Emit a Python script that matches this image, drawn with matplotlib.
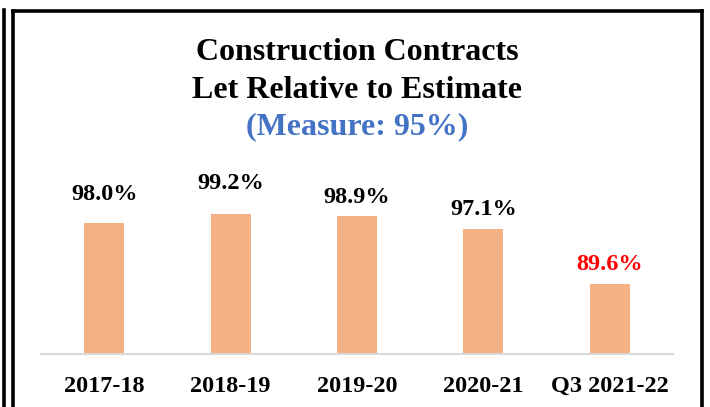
import matplotlib
matplotlib.use("Agg")
import matplotlib.pyplot as plt
from matplotlib.lines import Line2D

categories = ["2017-18", "2018-19", "2019-20", "2020-21", "Q3 2021-22"]
values = [98.0, 99.2, 98.9, 97.1, 89.6]
labels = ["98.0%", "99.2%", "98.9%", "97.1%", "89.6%"]
label_colors = ["black", "black", "black", "black", "#FF0000"]
label_offsets_px = [28, 30, 19, 20, 19]  # label centre above bar top, pixels

plt.rcParams['font.family'] = ['Liberation Serif', 'DejaVu Serif']

W, H = 710, 407
fig = plt.figure(figsize=(W / 100, H / 100), dpi=100)

# axes placement in pixels
x0, x1 = 41, 673
ybase, ytop = 354, 150
ax = fig.add_axes([x0 / W, 1 - ybase / H, (x1 - x0) / W, (ybase - ytop) / H])
ax.bar(range(len(values)), values, width=0.316, color="#F4B183", zorder=2)
ax.set_xlim(-0.5, len(values) - 0.5)
ax.set_ylim(80, 80 + (ybase - ytop) / 7.3)
for s in ["top", "right", "left"]:
    ax.spines[s].set_visible(False)
ax.spines["bottom"].set_color("#D9D9D9")
ax.spines["bottom"].set_linewidth(1.5)
ax.set_yticks([])
ax.set_xticks(range(len(categories)))
ax.set_xticklabels(categories, fontsize=17.5, fontweight="bold")
ax.tick_params(axis="x", length=0, pad=15.5)
ax.patch.set_alpha(0)

for i, (v, lab, c, off) in enumerate(zip(values, labels, label_colors, label_offsets_px)):
    ax.annotate(lab, (i, v), xytext=(0, off * 0.72), textcoords="offset points",
                ha="center", va="center", fontsize=17.5, fontweight="bold", color=c)

# titles
cx = 357 / W
fig.text(cx, 1 - 52 / H, "Construction Contracts", ha="center", va="center",
         fontsize=23, fontweight="bold")
fig.text(cx, 1 - 90 / H, "Let Relative to Estimate", ha="center", va="center",
         fontsize=23, fontweight="bold")
fig.text(cx, 1 - 127 / H, "(Measure: 95%)", ha="center", va="center",
         fontsize=23, fontweight="bold", color="#4472C4")

# border lines
def px_line(xs, ys, lw):
    fig.add_artist(Line2D([x / W for x in xs], [1 - y / H for y in ys],
                          color="black", linewidth=lw, transform=fig.transFigure,
                          solid_capstyle="projecting"))

px_line([3.5, 3.5], [10, 410], 2.6)
px_line([12.5, 12.5], [11, 410], 2.6)
px_line([12.5, 701.5], [11, 11], 2.6)
px_line([701.5, 701.5], [11, 410], 2.6)

fig.savefig("out.png", dpi=100)
